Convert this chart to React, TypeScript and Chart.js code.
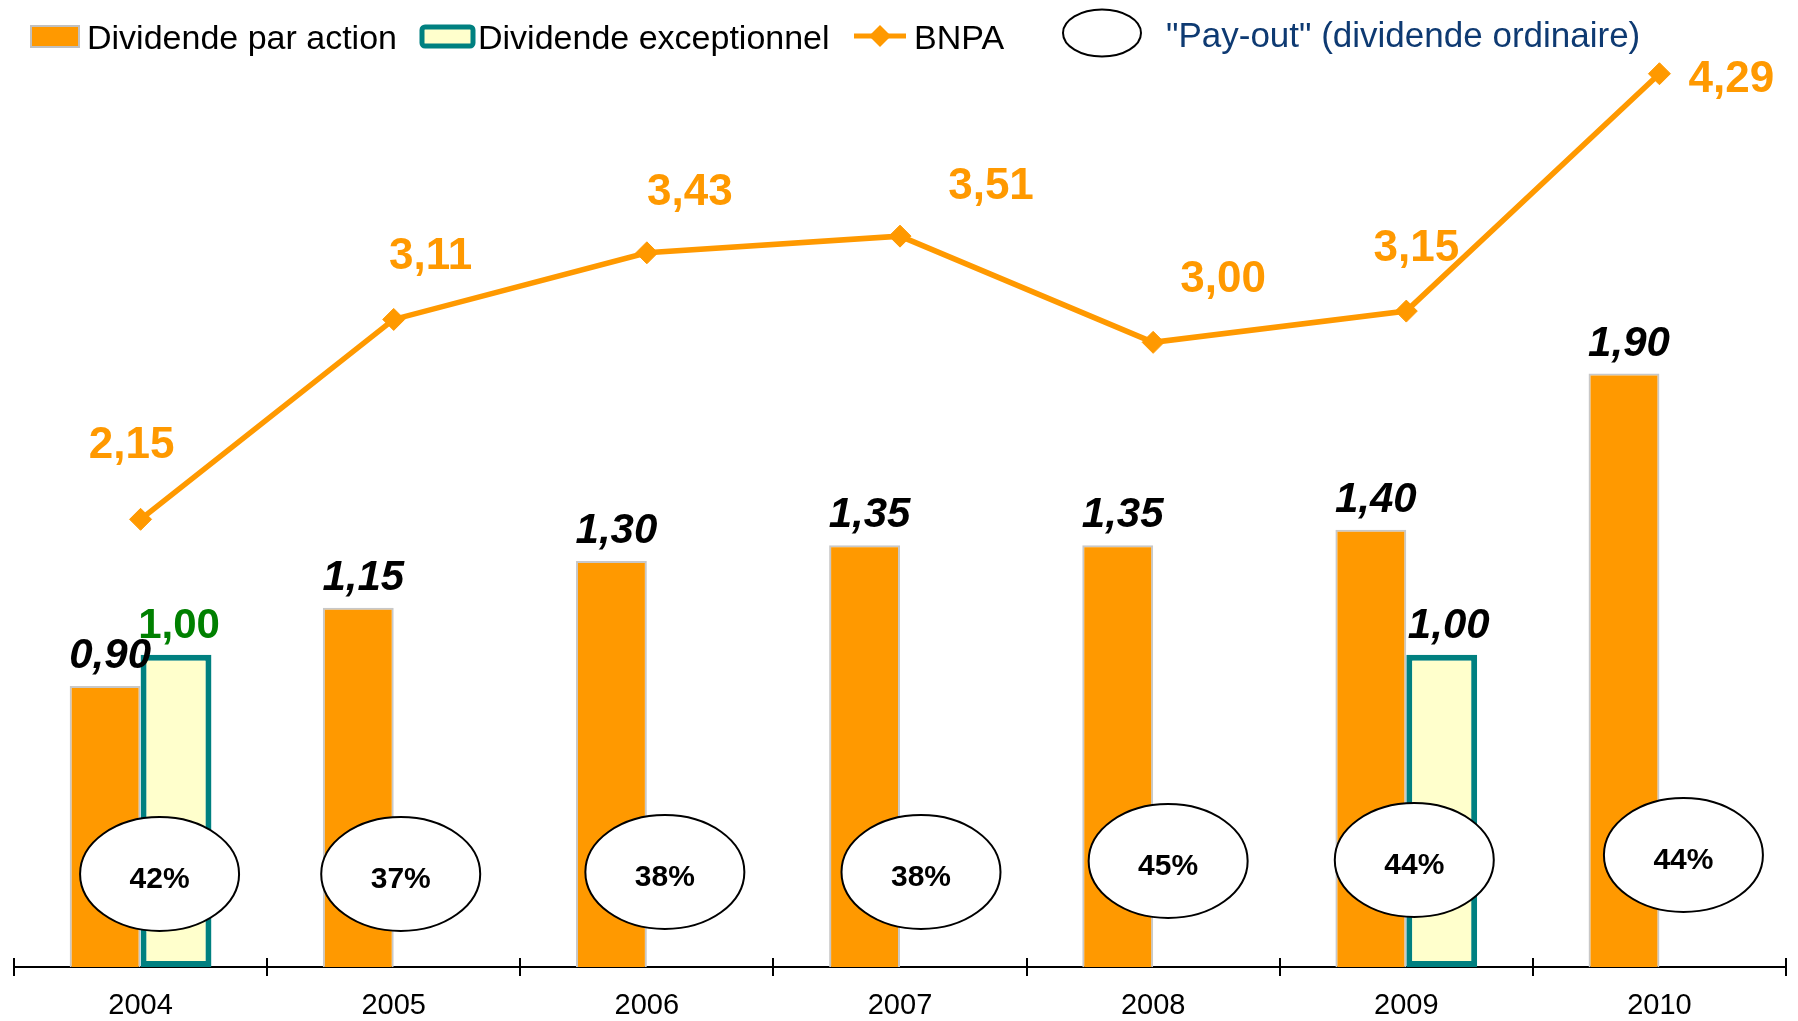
import React, { useEffect, useRef } from 'react';
import { Chart, registerables } from 'chart.js';

Chart.register(...registerables);

// ---------- data ----------
const years = ['2004', '2005', '2006', '2007', '2008', '2009', '2010'];
const dividendeParAction = [0.9, 1.15, 1.3, 1.35, 1.35, 1.4, 1.9];
const dividendeExceptionnel: (number | null)[] = [1.0, null, null, null, null, 1.0, null];
const bnpa = [2.15, 3.11, 3.43, 3.51, 3.0, 3.15, 4.29];
const payout = ['42%', '37%', '38%', '38%', '45%', '44%', '44%'];

const legendLabels = ['Dividende par action', 'Dividende exceptionnel', 'BNPA', '"Pay-out" (dividende ordinaire)'];

// ---------- layout / style (not data) ----------
const FONT = '"Liberation Sans", Arial, Helvetica, sans-serif';
const ORANGE = '#FF9900';
const TEAL = '#008080';
const PALE = '#FFFFCC';
const NAVY = '#0E3A72';
const bnpaLabelOffsets = [[-9, -77], [37, -66], [43, -64], [91, -53], [70, -66], [10, -66], [72, 2]];
const payoutEllipseOffsets = [[19, -93], [7, -93], [18, -95], [21, -95], [15, -106], [8, -107], [24, -112]];
const exceptionnelLabelStyles = [
  { color: '#008000', italic: false },
  null, null, null, null,
  { color: '#000000', italic: true },
  null,
];

const fmt = (v: number) => v.toFixed(2).replace('.', ',');

function diamond(ctx: CanvasRenderingContext2D, x: number, y: number, r: number) {
  ctx.beginPath();
  ctx.moveTo(x - r, y);
  ctx.lineTo(x, y - r);
  ctx.lineTo(x + r, y);
  ctx.lineTo(x, y + r);
  ctx.closePath();
}

const overlayPlugin = {
  id: 'overlay',
  afterDatasetsDraw(chart: any) {
    const ctx: CanvasRenderingContext2D = chart.ctx;
    const area = chart.chartArea;
    const xs = chart.scales.x;
    ctx.save();

    // upper part of the category tick marks
    const n = years.length;
    const step = (xs.right - xs.left) / n;
    ctx.strokeStyle = '#000';
    ctx.lineWidth = 2;
    for (let i = 0; i <= n; i++) {
      const x = Math.round(xs.left + i * step);
      ctx.beginPath();
      ctx.moveTo(x, area.bottom - 9);
      ctx.lineTo(x, area.bottom);
      ctx.stroke();
    }

    // bar value labels
    ctx.textAlign = 'center';
    ctx.textBaseline = 'alphabetic';
    const m0 = chart.getDatasetMeta(0);
    m0.data.forEach((bar: any, i: number) => {
      ctx.font = `italic bold 42px ${FONT}`;
      ctx.fillStyle = '#000';
      ctx.fillText(fmt(dividendeParAction[i]), bar.x + 5, bar.y - 18);
    });
    const m1 = chart.getDatasetMeta(1);
    m1.data.forEach((bar: any, i: number) => {
      const v = dividendeExceptionnel[i];
      const st = exceptionnelLabelStyles[i];
      if (v == null || !st) return;
      ctx.font = `${st.italic ? 'italic ' : ''}bold 42px ${FONT}`;
      ctx.fillStyle = st.color;
      ctx.fillText(fmt(v), bar.x + (st.italic ? 7 : 3), bar.y - 17);
    });

    // payout ellipses
    payout.forEach((p, i) => {
      const cx = xs.getPixelForValue(i) + payoutEllipseOffsets[i][0];
      const cy = area.bottom + payoutEllipseOffsets[i][1];
      ctx.beginPath();
      ctx.ellipse(cx, cy, 79.5, 57, 0, 0, Math.PI * 2);
      ctx.fillStyle = '#fff';
      ctx.fill();
      ctx.strokeStyle = '#000';
      ctx.lineWidth = 2;
      ctx.stroke();
      ctx.font = `bold 30px ${FONT}`;
      ctx.fillStyle = '#000';
      ctx.fillText(p, cx, cy + 14);
    });

    // BNPA labels
    const m2 = chart.getDatasetMeta(2);
    ctx.font = `bold 44px ${FONT}`;
    ctx.fillStyle = ORANGE;
    m2.data.forEach((pt: any, i: number) => {
      const [dx, dy] = bnpaLabelOffsets[i];
      ctx.fillText(fmt(bnpa[i]), pt.x + dx, pt.y + dy + 16);
    });

    ctx.restore();
  },
  afterDraw(chart: any) {
    const ctx: CanvasRenderingContext2D = chart.ctx;
    ctx.save();
    ctx.textAlign = 'left';
    ctx.textBaseline = 'alphabetic';

    // item 1
    ctx.fillStyle = ORANGE;
    ctx.fillRect(31, 26, 48, 21);
    ctx.strokeStyle = '#C0C0C0';
    ctx.lineWidth = 2;
    ctx.strokeRect(31, 26, 48, 21);
    ctx.font = `34px ${FONT}`;
    ctx.fillStyle = '#000';
    ctx.fillText(legendLabels[0], 87, 49);

    // item 2
    ctx.beginPath();
    (ctx as any).roundRect(422, 27, 51, 19, 3);
    ctx.fillStyle = PALE;
    ctx.fill();
    ctx.strokeStyle = TEAL;
    ctx.lineWidth = 5;
    ctx.stroke();
    ctx.fillStyle = '#000';
    ctx.fillText(legendLabels[1], 478, 49);

    // item 3
    ctx.strokeStyle = ORANGE;
    ctx.lineWidth = 5;
    ctx.beginPath();
    ctx.moveTo(854, 36);
    ctx.lineTo(906, 36);
    ctx.stroke();
    diamond(ctx, 880, 36, 11);
    ctx.fillStyle = ORANGE;
    ctx.fill();
    ctx.fillStyle = '#000';
    ctx.fillText(legendLabels[2], 914, 49);

    // item 4
    ctx.beginPath();
    ctx.ellipse(1102, 33, 39, 23.5, 0, 0, Math.PI * 2);
    ctx.fillStyle = '#fff';
    ctx.fill();
    ctx.strokeStyle = '#000';
    ctx.lineWidth = 2;
    ctx.stroke();
    ctx.font = `35px ${FONT}`;
    ctx.fillStyle = NAVY;
    ctx.fillText(legendLabels[3], 1166, 47);

    ctx.restore();
  },
};

export default function App() {
  const ref = useRef<HTMLCanvasElement>(null);

  useEffect(() => {
    if (!ref.current) return;
    const chart = new Chart(ref.current, {
      type: 'bar',
      data: {
        labels: years,
        datasets: [
          {
            label: legendLabels[0],
            data: dividendeParAction,
            backgroundColor: ORANGE,
            borderColor: '#C8C8C8',
            borderWidth: 2,
            yAxisID: 'y',
            order: 1,
          } as any,
          {
            label: legendLabels[1],
            data: dividendeExceptionnel,
            backgroundColor: PALE,
            borderColor: TEAL,
            borderWidth: 6,
            borderSkipped: false,
            yAxisID: 'y',
            order: 1,
          } as any,
          {
            type: 'line',
            label: legendLabels[2],
            data: bnpa,
            borderColor: ORANGE,
            backgroundColor: ORANGE,
            borderWidth: 5.5,
            tension: 0,
            pointStyle: 'rectRot',
            pointRadius: 11,
            pointBackgroundColor: ORANGE,
            pointBorderColor: ORANGE,
            pointBorderWidth: 1,
            yAxisID: 'y1',
            order: 0,
            clip: false,
          } as any,
        ],
      },
      options: {
        responsive: false,
        devicePixelRatio: 1,
        animation: false,
        datasets: {
          bar: { categoryPercentage: 0.56, barPercentage: 1.0 },
        } as any,
        layout: { padding: { left: 14, right: 11, top: 30, bottom: 0 } },
        plugins: {
          legend: { display: false },
          tooltip: { enabled: false },
        },
        scales: {
          x: {
            type: 'category',
            offset: true,
            grid: {
              offset: true,
              drawOnChartArea: false,
              drawTicks: true,
              tickLength: 9,
              color: '#000',
              lineWidth: 2,
            },
            border: { display: true, color: '#000', width: 2 },
            ticks: {
              color: '#000',
              font: { family: FONT, size: 29 },
              padding: 13,
              maxRotation: 0,
            },
            afterFit: (scale: any) => {
              scale.height = 54;
            },
          },
          y: { type: 'linear', display: false, min: 0, max: 3.0 },
          y1: { type: 'linear', display: false, min: 0, max: 4.5 },
        },
      },
      plugins: [overlayPlugin],
    });
    return () => chart.destroy();
  }, []);

  return (
    <div style={{ position: 'fixed', left: 0, top: 0, width: 1798, height: 1021, background: '#fff' }}>
      <canvas ref={ref} width={1798} height={1021} style={{ display: 'block', width: 1798, height: 1021 }} />
    </div>
  );
}
